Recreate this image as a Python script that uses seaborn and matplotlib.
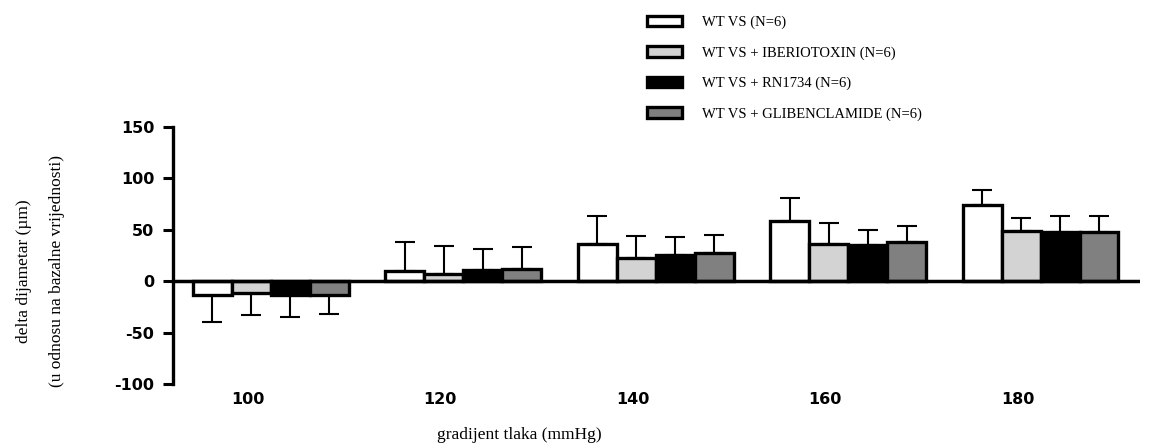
import pandas as pd
import matplotlib
matplotlib.use('Agg')
import matplotlib.pyplot as plt
import matplotlib.transforms as mtransforms
import seaborn as sns

# podaci (ocitano s grafa)
tlak = ['100', '120', '140', '160', '180']
grupe = ['WT VS (N=6)', 'WT VS + IBERIOTOXIN (N=6)', 'WT VS + RN1734 (N=6)',
         'WT VS + GLIBENCLAMIDE (N=6)']
wt_mean = [-13.5, 9.7, 36, 58.4, 74.6]
wt_err = [26.6, 28.6, 27.5, 22.3, 14]
ib_mean = [-11.4, 7.5, 22.4, 36.3, 48.6]
ib_err = [21.6, 26.5, 21.6, 20.4, 13]
rn_mean = [-13.6, 11.4, 25.6, 35.3, 48.3]
rn_err = [21.4, 19.6, 17.4, 15, 15.2]
gl_mean = [-13, 11.7, 27.5, 38.6, 47.7]
gl_err = [18.8, 21.7, 17.9, 15.2, 15.8]
boje = ['white', '#d3d3d3', 'black', '#808080']

means = [wt_mean, ib_mean, rn_mean, gl_mean]
errs = [wt_err, ib_err, rn_err, gl_err]
rows = []
for g, m, e in zip(grupe, means, errs):
    for t, mv, ev in zip(tlak, m, e):
        rows.append({'tlak': t, 'grupa': g, 'mean': mv, 'err': ev})
df = pd.DataFrame(rows)

sns.set_style('white')
plt.rcParams['axes.unicode_minus'] = False
for k in ['text.color', 'axes.labelcolor', 'xtick.color', 'ytick.color']:
    plt.rcParams[k] = 'black'
fig = plt.figure(figsize=(11.5, 4.46), dpi=100)
ax = fig.add_axes([0.150, 0.139, 0.841, 0.576])

sns.barplot(data=df, x='tlak', y='mean', hue='grupa', palette=boje,
            edgecolor='black', linewidth=2.4, width=0.81, errorbar=None,
            saturation=1, ax=ax, zorder=3)

# error bars, samo u jednom smjeru
for cont, g in zip(ax.containers, grupe):
    sub = df[df['grupa'] == g]
    xs = [b.get_x() + b.get_width() / 2 for b in cont]
    lo = [e if m < 0 else 0 for m, e in zip(sub['mean'], sub['err'])]
    hi = [e if m >= 0 else 0 for m, e in zip(sub['mean'], sub['err'])]
    ax.errorbar(xs, sub['mean'], yerr=[lo, hi], fmt='none', ecolor='black',
                elinewidth=1.5, capsize=7, capthick=1.5, zorder=2)

ax.axhline(0, color='black', linewidth=2.5, zorder=4)
ax.set_xlim(-0.51, 4.515)
ax.set_ylim(-100, 150)
ax.set_yticks([-100, -50, 0, 50, 100, 150])
for s in ['top', 'right', 'bottom']:
    ax.spines[s].set_visible(False)
ax.spines['left'].set_linewidth(2.4)
ax.spines['left'].set_color('black')
ax.tick_params(axis='y', length=7, width=2.2, color='black', pad=6,
               left=True, labelsize=11.5)
ax.tick_params(axis='x', length=0, pad=6, labelsize=11.5)
for lab in ax.get_yticklabels() + ax.get_xticklabels():
    lab.set_fontweight('bold')
    lab.set_family('DejaVu Sans')
off = mtransforms.ScaledTranslation(-0.23, 0, fig.dpi_scale_trans)
for lab in ax.get_xticklabels():
    lab.set_transform(lab.get_transform() + off)

ax.set_xlabel('')
ax.set_ylabel('delta dijametar (µm)\n(u odnosu na bazalne vrijednosti)',
              family='Liberation Serif', fontsize=12.5, linespacing=2.45)
ax.yaxis.set_label_coords(-0.111, 0.44)
fig.text(0.452, 0.025, 'gradijent tlaka (mmHg)', family='Liberation Serif',
         fontsize=12.5, ha='center', va='center')

handles, labels = ax.get_legend_handles_labels()
ax.legend(handles, labels, loc='upper left', bbox_to_anchor=(0.551, 0.994),
          bbox_transform=fig.transFigure, frameon=False,
          prop={'family': 'Liberation Serif', 'size': 10.5},
          handlelength=2.4, handleheight=0.75, handletextpad=1.4,
          labelspacing=1.15)

plt.savefig('out.png', dpi=100)
